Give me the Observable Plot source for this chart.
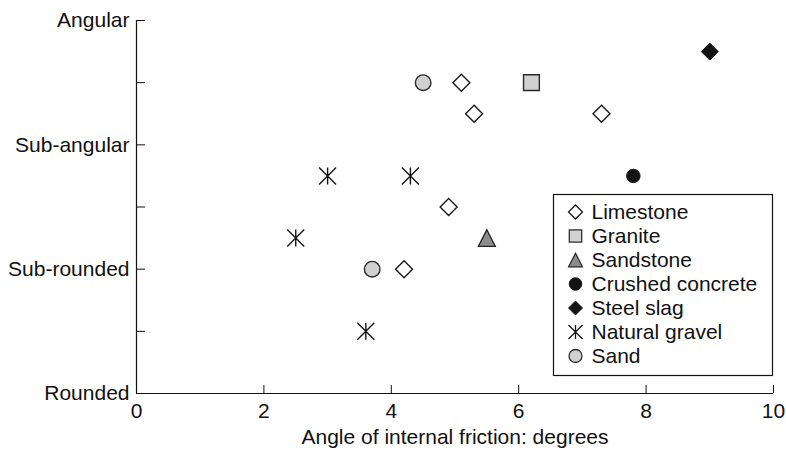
<!DOCTYPE html>
<html><head><meta charset="utf-8">
<script src="https://cdn.jsdelivr.net/npm/d3@7"></script>
<script src="https://cdn.jsdelivr.net/npm/@observablehq/plot@0.6"></script>
<style>
body{margin:0;background:#fff;}
#chart{position:relative;width:786px;height:450px;}
</style></head><body><div id="chart"></div>
<script>
// ---- data ----
const categories = ["Limestone","Granite","Sandstone","Crushed concrete","Steel slag","Natural gravel","Sand"];
const limestoneX = [5.1, 5.3, 7.3, 4.9, 4.2];
const limestoneY = [5, 4.5, 4.5, 3, 2];
const graniteX = [6.2];
const graniteY = [5];
const sandstoneX = [5.5];
const sandstoneY = [2.5];
const concreteX = [7.8];
const concreteY = [3.5];
const slagX = [9.0];
const slagY = [5.5];
const gravelX = [3.0, 4.3, 2.5, 3.6];
const gravelY = [3.5, 3.5, 2.5, 1];
const sandX = [4.5, 3.7];
const sandY = [5, 2];
const xTicks = [0, 2, 4, 6, 8, 10];
const yTicks = [0, 1, 2, 3, 4, 5, 6];
const yTickLabels = ["Rounded", "", "Sub-rounded", "", "Sub-angular", "", "Angular"];
const xLabel = "Angle of internal friction: degrees";

// ---- symbols ----
const rad = s => Math.sqrt(s / Math.PI);
const SYM = {
  diamond: {draw(c, s){const r = rad(s); c.moveTo(0,-r); c.lineTo(r,0); c.lineTo(0,r); c.lineTo(-r,0); c.closePath();}},
  square: {draw(c, s){const r = rad(s); c.moveTo(-r,-r); c.lineTo(r,-r); c.lineTo(r,r); c.lineTo(-r,r); c.closePath();}},
  triangle: {draw(c, s){const r = rad(s); c.moveTo(0,-r); c.lineTo(r*1.02,r); c.lineTo(-r*1.02,r); c.closePath();}},
  circle: {draw(c, s){const r = rad(s); c.moveTo(r,0); c.arc(0,0,r,0,2*Math.PI); c.closePath();}},
  asterisk: {draw(c, s){const r = rad(s); c.moveTo(0,-r); c.lineTo(0,r); c.moveTo(-r,-r); c.lineTo(r,r); c.moveTo(-r,r); c.lineTo(r,-r);}}
};

const series = [
  {name: categories[0], xs: limestoneX, ys: limestoneY, symbol: SYM.diamond, r: 8.5, lr: 7, fill: "#fff", stroke: "#1a1a1a", sw: 1.4},
  {name: categories[1], xs: graniteX, ys: graniteY, symbol: SYM.square, r: 7.9, lr: 6.2, fill: "#d2d2d2", stroke: "#2a2a2a", sw: 1.4},
  {name: categories[2], xs: sandstoneX, ys: sandstoneY, symbol: SYM.triangle, r: 8.3, lr: 6.8, fill: "#8c8c8c", stroke: "#222", sw: 1.3},
  {name: categories[3], xs: concreteX, ys: concreteY, symbol: SYM.circle, r: 6.7, lr: 6.3, fill: "#141414", stroke: "#141414", sw: 1},
  {name: categories[4], xs: slagX, ys: slagY, symbol: SYM.diamond, r: 8.5, lr: 7, fill: "#141414", stroke: "#141414", sw: 1},
  {name: categories[5], xs: gravelX, ys: gravelY, symbol: SYM.asterisk, r: 8.5, lr: 7, fill: "none", stroke: "#141414", sw: 1.4},
  {name: categories[6], xs: sandX, ys: sandY, symbol: SYM.circle, r: 7.8, lr: 6.5, fill: "#d0d0d0", stroke: "#2a2a2a", sw: 1.4}
];

const FONT = "'Liberation Sans', Arial, Helvetica, sans-serif";

const marks = [
  Plot.axisX({ticks: xTicks, tickSize: -8, tickPadding: 18, tickFormat: d => String(d),
    label: xLabel, labelAnchor: "center", labelOffset: 50, labelArrow: "none", fontSize: 21}),
  Plot.axisY({ticks: yTicks, tickSize: -9, tickPadding: 16, tickFormat: d => yTickLabels[d],
    label: null, fontSize: 21}),
  Plot.ruleX([0], {stroke: "#111", strokeWidth: 1.2}),
  Plot.ruleY([0], {stroke: "#111", strokeWidth: 1.2})
];
for (const s of series) {
  const data = s.xs.map((x, i) => ({x, y: s.ys[i]}));
  marks.push(Plot.dot(data, {x: "x", y: "y", symbol: s.symbol, r: s.r, fill: s.fill, stroke: s.stroke, strokeWidth: s.sw}));
}

const chart = Plot.plot({
  width: 786, height: 450,
  marginLeft: 136, marginRight: 13, marginTop: 20, marginBottom: 57,
  style: {fontFamily: FONT, fontSize: "21px", color: "#111", background: "#fff"},
  x: {domain: [0, 10]},
  y: {domain: [0, 6]},
  marks
});
document.getElementById("chart").appendChild(chart);

// ---- legend (inside plot area) ----
const svg = d3.select(chart);
const lg = svg.append("g").attr("transform", "translate(553.5,194.5)").attr("text-anchor", "start");
lg.append("rect").attr("width", 219).attr("height", 181).attr("fill", "#fff").attr("stroke", "#111").attr("stroke-width", 1.2);
series.forEach((s, i) => {
  const cy = 17.5 + i * 24;
  const p = d3.path();
  s.symbol.draw(p, s.lr * s.lr * Math.PI);
  lg.append("path").attr("d", p.toString()).attr("transform", `translate(22,${cy})`)
    .attr("fill", s.fill).attr("stroke", s.stroke).attr("stroke-width", s.sw * 0.9);
  lg.append("text").attr("x", 38).attr("y", cy).attr("dy", "0.35em").attr("text-anchor", "start")
    .attr("font-family", FONT).attr("font-size", 21).attr("fill", "#111").text(s.name);
});
</script>
</body></html>
